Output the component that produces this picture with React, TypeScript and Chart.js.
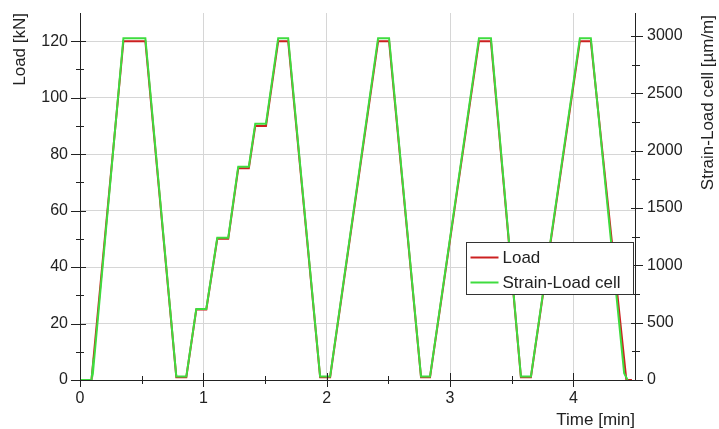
import React, { useEffect, useRef } from 'react';
import { Chart, registerables } from 'chart.js';

Chart.register(...registerables);

// Time [min] and Load [kN] (red)
const loadTimes = [0, 0.093, 0.352, 0.53, 0.781, 0.862, 0.943, 1.024, 1.113, 1.202, 1.283, 1.369, 1.421, 1.508, 1.607, 1.688, 1.947, 2.028, 2.417, 2.506, 2.765, 2.838, 3.235, 3.332, 3.575, 3.656, 4.053, 4.142, 4.43, 4.475];
const loadValues = [0, 0, 120, 120, 1, 1, 25, 25, 50, 50, 75, 75, 90, 90, 120, 120, 1, 1, 120, 120, 1, 1, 120, 120, 1, 1, 120, 120, 0, 0];

// Time [min] and Strain-Load cell [µm/m] (green)
const strainTimes = [0, 0.093, 0.105, 0.108, 0.352, 0.53, 0.781, 0.862, 0.943, 1.024, 1.113, 1.202, 1.283, 1.369, 1.421, 1.508, 1.607, 1.688, 1.947, 2.028, 2.417, 2.506, 2.765, 2.838, 3.235, 3.332, 3.575, 3.656, 4.053, 4.142, 4.412, 4.44];
const strainValues = [0, 0, 125, 100, 2980, 2980, 30, 30, 620, 620, 1240, 1240, 1860, 1860, 2235, 2235, 2980, 2980, 30, 30, 2980, 2980, 30, 30, 2980, 2980, 30, 30, 2980, 2980, 60, 0];

const xMajorTicks = [0, 1, 2, 3, 4];
const xMinorTicks = [0.5, 1.5, 2.5, 3.5];
const yMajorTicks = [0, 20, 40, 60, 80, 100, 120];
const yMinorTicks = [10, 30, 50, 70, 90, 110];
const y1MajorTicks = [0, 500, 1000, 1500, 2000, 2500, 3000];
const y1MinorTicks = [250, 750, 1250, 1750, 2250, 2750];

const seriesNames = ['Load', 'Strain-Load cell'];
const titles = { y: 'Load [kN]', y1: 'Strain-Load cell [µm/m]', x: 'Time [min]' };

const RED = '#cc2020';
const GREEN = '#3fdc3f';
const FONT = '"Liberation Sans", Arial, sans-serif';

const decorPlugin = {
  id: 'decor',
  afterDraw(chart: any) {
    const { ctx, chartArea: a, scales } = chart;
    const sx = scales.x, sy = scales.y, sy1 = scales.y1;
    ctx.save();
    ctx.strokeStyle = '#222';
    ctx.lineWidth = 1;
    const line = (x1: number, y1: number, x2: number, y2: number) => {
      ctx.beginPath();
      ctx.moveTo(x1, y1);
      ctx.lineTo(x2, y2);
      ctx.stroke();
    };
    xMajorTicks.forEach((v) => {
      const p = Math.round(sx.getPixelForValue(v)) + 0.5;
      line(p, a.bottom - 7, p, a.bottom + 7);
    });
    xMinorTicks.forEach((v) => {
      const p = Math.round(sx.getPixelForValue(v)) + 0.5;
      line(p, a.bottom - 4, p, a.bottom + 4);
    });
    yMajorTicks.forEach((v) => {
      const p = Math.round(sy.getPixelForValue(v)) + 0.5;
      line(a.left - 9, p, a.left + 6, p);
    });
    yMinorTicks.forEach((v) => {
      const p = Math.round(sy.getPixelForValue(v)) + 0.5;
      line(a.left - 4, p, a.left + 4, p);
    });
    y1MajorTicks.forEach((v) => {
      const p = Math.round(sy1.getPixelForValue(v)) + 0.5;
      line(a.right - 4, p, a.right + 8, p);
    });
    y1MinorTicks.forEach((v) => {
      const p = Math.round(sy1.getPixelForValue(v)) + 0.5;
      line(a.right - 3, p, a.right + 5, p);
    });

    // axis titles
    ctx.fillStyle = '#222';
    ctx.font = `17px ${FONT}`;
    ctx.textBaseline = 'middle';
    ctx.save();
    ctx.translate(20, a.top);
    ctx.rotate(-Math.PI / 2);
    ctx.textAlign = 'right';
    ctx.fillText(titles.y, 0, 0);
    ctx.restore();
    ctx.save();
    ctx.translate(708, a.top + 2);
    ctx.rotate(-Math.PI / 2);
    ctx.textAlign = 'right';
    ctx.fillText(titles.y1, 0, 0);
    ctx.restore();
    ctx.textAlign = 'right';
    ctx.fillText(titles.x, a.right, 420);

    // legend box
    const bx = 466.5, by = 242.5, bw = 167, bh = 52;
    ctx.fillStyle = '#fff';
    ctx.fillRect(bx, by, bw, bh);
    ctx.strokeStyle = '#333';
    ctx.lineWidth = 1;
    ctx.strokeRect(bx, by, bw, bh);
    const colors = [RED, GREEN];
    seriesNames.forEach((name, i) => {
      const yy = by + 15 + i * 25;
      ctx.strokeStyle = colors[i];
      ctx.lineWidth = 2;
      line(bx + 4, yy, bx + 32, yy);
      ctx.fillStyle = '#222';
      ctx.textAlign = 'left';
      ctx.fillText(name, bx + 36, yy + 1);
    });
    ctx.restore();
  },
};

const fixedTicks = (vals: number[]) => (s: any) => {
  s.ticks = vals.map((v) => ({ value: v }));
};

export default function App() {
  const ref = useRef<HTMLCanvasElement>(null);
  useEffect(() => {
    document.body.style.margin = '0';
    const canvas = ref.current;
    if (!canvas) return;
    const chart = new Chart(canvas, {
      type: 'line',
      data: {
        datasets: [
          {
            label: seriesNames[0],
            data: loadTimes.map((t, i) => ({ x: t, y: loadValues[i] })),
            borderColor: RED,
            backgroundColor: RED,
            borderWidth: 2,
            pointRadius: 0,
            tension: 0,
            yAxisID: 'y',
            order: 2,
          },
          {
            label: seriesNames[1],
            data: strainTimes.map((t, i) => ({ x: t, y: strainValues[i] })),
            borderColor: GREEN,
            backgroundColor: GREEN,
            borderWidth: 2,
            pointRadius: 0,
            tension: 0,
            yAxisID: 'y1',
            order: 1,
          },
        ],
      },
      options: {
        responsive: false,
        animation: false,
        devicePixelRatio: 1,
        layout: { padding: { top: 13, left: 0, right: 0, bottom: 0 } },
        plugins: { legend: { display: false }, tooltip: { enabled: false } },
        scales: {
          x: {
            type: 'linear',
            position: 'bottom',
            min: 0,
            max: 4.5,
            afterBuildTicks: fixedTicks(xMajorTicks),
            ticks: {
              padding: 9,
              color: '#222',
              font: { family: FONT, size: 16 },
              callback: (v: any) => String(v),
            },
            grid: { color: '#d6d6d6', lineWidth: 1, drawTicks: false },
            border: { color: '#222', width: 1 },
            afterFit: (s: any) => { s.height = 49; s.paddingLeft = 0; s.paddingRight = 0; },
          },
          y: {
            type: 'linear',
            position: 'left',
            min: 0,
            max: 130,
            afterBuildTicks: fixedTicks(yMajorTicks),
            ticks: {
              padding: 12,
              color: '#222',
              font: { family: FONT, size: 16 },
              callback: (v: any) => String(v),
            },
            grid: { color: '#d6d6d6', lineWidth: 1, drawTicks: false },
            border: { color: '#222', width: 1 },
            afterFit: (s: any) => { s.width = 80; s.paddingTop = 0; s.paddingBottom = 0; },
          },
          y1: {
            type: 'linear',
            position: 'right',
            min: 0,
            max: 3200,
            afterBuildTicks: fixedTicks(y1MajorTicks),
            ticks: {
              padding: 12,
              color: '#222',
              font: { family: FONT, size: 16 },
              callback: (v: any) => String(v),
            },
            grid: { drawOnChartArea: false, drawTicks: false },
            border: { color: '#222', width: 1 },
            afterFit: (s: any) => { s.width = 84; s.paddingTop = 0; s.paddingBottom = 0; },
          },
        },
      },
      plugins: [decorPlugin],
    } as any);
    return () => chart.destroy();
  }, []);
  return (
    <div style={{ width: 719, height: 429, background: '#fff' }}>
      <canvas ref={ref} width={719} height={429} style={{ display: 'block', width: 719, height: 429 }} />
    </div>
  );
}
